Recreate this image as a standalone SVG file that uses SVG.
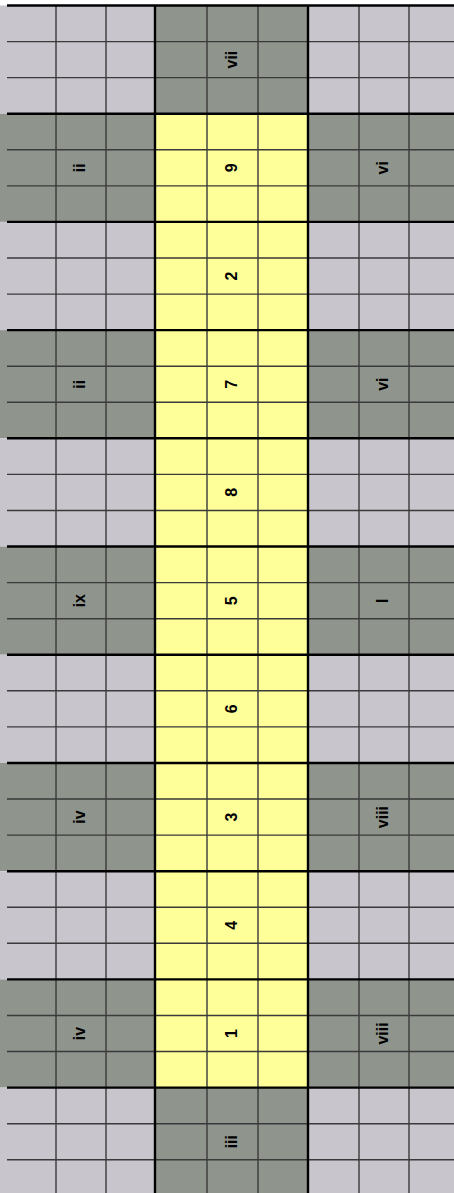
<svg xmlns="http://www.w3.org/2000/svg" width="454" height="1193" viewBox="0 0 454 1193">
<style>
.lt{fill:#c9c5cd}
.dk{fill:#8f958d}
.ye{fill:#ffff99}
.thin{stroke:#3a3a3a;stroke-width:1.4}
.thick{stroke:#000;stroke-width:2.4}
text{font-family:"Liberation Sans",Arial,sans-serif;font-weight:bold;font-size:16px;fill:#000;text-anchor:middle}
</style>
<rect width="454" height="1193" fill="#ffffff"/>
<g id="row0">
<rect class="lt" x="0" y="5.5" width="155" height="108.2"/>
<rect class="dk" x="155" y="5.5" width="153" height="108.2"/>
<rect class="lt" x="308" y="5.5" width="146" height="108.2"/>
<text transform="translate(232.5,59.6) rotate(-90)" y="4">vii</text>
</g>
<g id="row1">
<rect class="dk" x="0" y="113.7" width="155" height="108.2"/>
<rect class="ye" x="155" y="113.7" width="153" height="108.2"/>
<rect class="dk" x="308" y="113.7" width="146" height="108.2"/>
<text transform="translate(81,167.8) rotate(-90)" y="4">ii</text>
<text transform="translate(232.5,167.8) rotate(-90)" y="4">9</text>
<text transform="translate(384,167.8) rotate(-90)" y="4">vi</text>
</g>
<g id="row2">
<rect class="lt" x="0" y="221.9" width="155" height="108.2"/>
<rect class="ye" x="155" y="221.9" width="153" height="108.2"/>
<rect class="lt" x="308" y="221.9" width="146" height="108.2"/>
<text transform="translate(232.5,276) rotate(-90)" y="4">2</text>
</g>
<g id="row3">
<rect class="dk" x="0" y="330.1" width="155" height="108.2"/>
<rect class="ye" x="155" y="330.1" width="153" height="108.2"/>
<rect class="dk" x="308" y="330.1" width="146" height="108.2"/>
<text transform="translate(81,384.2) rotate(-90)" y="4">ii</text>
<text transform="translate(232.5,384.2) rotate(-90)" y="4">7</text>
<text transform="translate(384,384.2) rotate(-90)" y="4">vi</text>
</g>
<g id="row4">
<rect class="lt" x="0" y="438.3" width="155" height="108.2"/>
<rect class="ye" x="155" y="438.3" width="153" height="108.2"/>
<rect class="lt" x="308" y="438.3" width="146" height="108.2"/>
<text transform="translate(232.5,492.4) rotate(-90)" y="4">8</text>
</g>
<g id="row5">
<rect class="dk" x="0" y="546.5" width="155" height="108.2"/>
<rect class="ye" x="155" y="546.5" width="153" height="108.2"/>
<rect class="dk" x="308" y="546.5" width="146" height="108.2"/>
<text transform="translate(81,600.7) rotate(-90)" y="4">ix</text>
<text transform="translate(232.5,600.7) rotate(-90)" y="4">5</text>
<text transform="translate(384,600.7) rotate(-90)" y="4">I</text>
</g>
<g id="row6">
<rect class="lt" x="0" y="654.8" width="155" height="108.2"/>
<rect class="ye" x="155" y="654.8" width="153" height="108.2"/>
<rect class="lt" x="308" y="654.8" width="146" height="108.2"/>
<text transform="translate(232.5,708.9) rotate(-90)" y="4">6</text>
</g>
<g id="row7">
<rect class="dk" x="0" y="763" width="155" height="108.2"/>
<rect class="ye" x="155" y="763" width="153" height="108.2"/>
<rect class="dk" x="308" y="763" width="146" height="108.2"/>
<text transform="translate(81,817.1) rotate(-90)" y="4">iv</text>
<text transform="translate(232.5,817.1) rotate(-90)" y="4">3</text>
<text transform="translate(384,817.1) rotate(-90)" y="4">viii</text>
</g>
<g id="row8">
<rect class="lt" x="0" y="871.2" width="155" height="108.2"/>
<rect class="ye" x="155" y="871.2" width="153" height="108.2"/>
<rect class="lt" x="308" y="871.2" width="146" height="108.2"/>
<text transform="translate(232.5,925.3) rotate(-90)" y="4">4</text>
</g>
<g id="row9">
<rect class="dk" x="0" y="979.4" width="155" height="108.2"/>
<rect class="ye" x="155" y="979.4" width="153" height="108.2"/>
<rect class="dk" x="308" y="979.4" width="146" height="108.2"/>
<text transform="translate(81,1033.5) rotate(-90)" y="4">iv</text>
<text transform="translate(232.5,1033.5) rotate(-90)" y="4">1</text>
<text transform="translate(384,1033.5) rotate(-90)" y="4">viii</text>
</g>
<g id="row10">
<rect class="lt" x="0" y="1087.6" width="155" height="108.2"/>
<rect class="dk" x="155" y="1087.6" width="153" height="108.2"/>
<rect class="lt" x="308" y="1087.6" width="146" height="108.2"/>
<text transform="translate(232.5,1141.7) rotate(-90)" y="4">iii</text>
</g>
<g id="grid">
<path class="thin" d="M56,5.5V1193M106,5.5V1193M207,5.5V1193M258,5.5V1193M359,5.5V1193M409,5.5V1193"/>
<path class="thin" d="M7,41.6H454M7,77.6H454M7,149.8H454M7,185.9H454M7,258H454M7,294.1H454M7,366.2H454M7,402.3H454M7,474.4H454M7,510.5H454M7,582.6H454M7,618.7H454M7,690.8H454M7,726.9H454M7,799H454M7,835.1H454M7,907.3H454M7,943.3H454M7,1015.5H454M7,1051.5H454M7,1123.7H454M7,1159.7H454"/>
<path class="thick" d="M155,5.5V1193M308,5.5V1193"/>
<path class="thick" d="M7,5.5H454M7,113.7H454M7,221.9H454M7,330.1H454M7,438.3H454M7,546.5H454M7,654.8H454M7,763H454M7,871.2H454M7,979.4H454M7,1087.6H454"/>
</g>
</svg>
